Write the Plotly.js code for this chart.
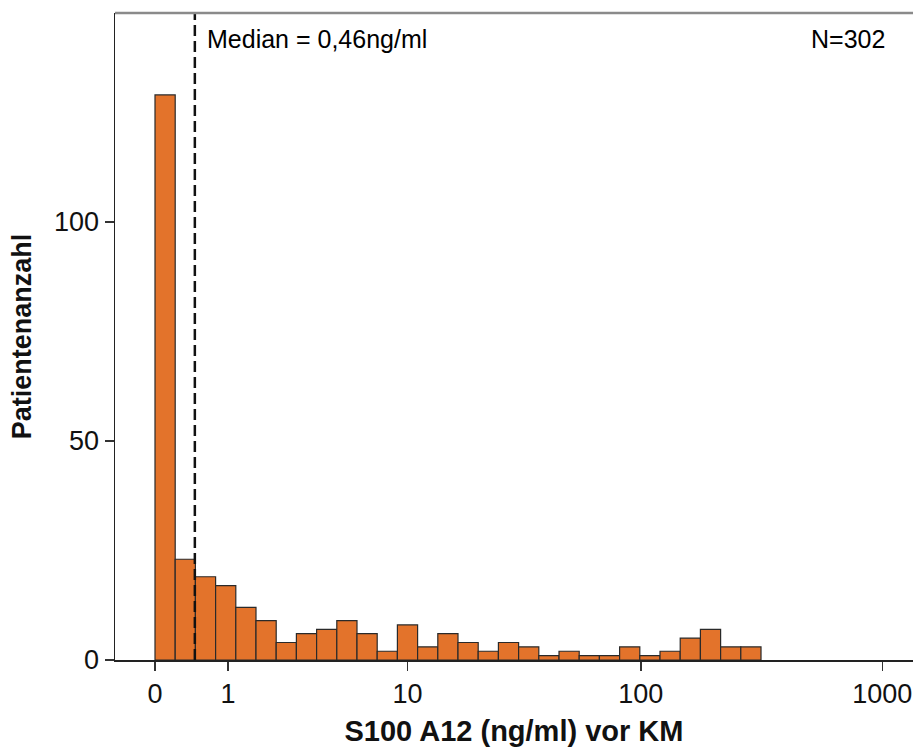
<!DOCTYPE html>
<html>
<head>
<meta charset="utf-8">
<script src="https://cdn.plot.ly/plotly-3.0.1.min.js"></script>
<style>html,body{margin:0;padding:0;background:#fff;}#chart{width:913px;height:747px;}</style>
</head>
<body>
<div id="chart"></div>
<script>
// Histogram counts per bin (bins equal-width on a log10(x+1) scale, 12 bins per decade)
const counts = [129, 23, 19, 17, 12, 9, 4, 6, 7, 9, 6, 2, 8, 3, 6, 4, 2, 4, 3, 1, 2, 1, 1, 3, 1, 2, 5, 7, 3, 3];
const binsPerDecade = 12;
const tickValuesRaw = [0, 1, 10, 100, 1000];
const tickLabels = ["0", "1", "10", "100", "1000"];
const medianValue = 0.46;
const medianText = "Median = 0,46ng/ml";
const nText = "N=302";
const xTitle = "S100 A12 (ng/ml) vor KM";
const yTitle = "Patientenanzahl";

const tf = v => Math.log10(v + 1);
const binW = 1 / binsPerDecade;
const xs = counts.map((_, i) => (i + 0.5) * binW);

const trace = {
  type: 'bar',
  x: xs,
  y: counts,
  width: binW,
  marker: { color: '#E3732B', line: { color: '#2a2a2a', width: 1.2 } },
  hoverinfo: 'x+y'
};

const font = "Liberation Sans, Arial, sans-serif";
const layout = {
  width: 913, height: 747,
  margin: { l: 115, r: 0, t: 13, b: 87 },
  paper_bgcolor: '#fff', plot_bgcolor: '#fff',
  showlegend: false,
  bargap: 0,
  xaxis: {
    range: [-0.165, 3.127],
    tickmode: 'array',
    tickvals: tickValuesRaw.map(tf),
    ticktext: tickLabels,
    ticks: 'outside', ticklen: 9, tickwidth: 1.5, tickcolor: '#333',
    showline: true, linecolor: '#222', linewidth: 1.5,
    showgrid: false, zeroline: false,
    tickfont: { family: font, size: 27, color: '#111' },
    title: { text: xTitle, font: { family: font, size: 29, color: '#111', weight: 'bold' }, standoff: 14 }
  },
  yaxis: {
    range: [0, 147.7],
    tickmode: 'array',
    tickvals: [0, 50, 100],
    ticks: 'outside', ticklen: 9, tickwidth: 1.5, tickcolor: '#333',
    showline: true, linecolor: '#222', linewidth: 1.5,
    showgrid: false, zeroline: false,
    tickfont: { family: font, size: 27, color: '#111' },
    title: { text: yTitle, font: { family: font, size: 27, color: '#111', weight: 'bold' }, standoff: 14 }
  },
  shapes: [
    { type: 'line', xref: 'x', yref: 'paper', x0: tf(medianValue), x1: tf(medianValue), y0: 0, y1: 1,
      line: { color: '#111', width: 2.5, dash: '11px,5px' } },
    { type: 'line', xref: 'paper', yref: 'paper', x0: 0, x1: 1, y0: 1, y1: 1,
      line: { color: '#8a8a8a', width: 2.5 } }
  ],
  annotations: [
    { xref: 'x', yref: 'paper', x: tf(medianValue), y: 0.985, xanchor: 'left', yanchor: 'top', xshift: 10,
      text: medianText, showarrow: false, font: { family: font, size: 25, color: '#000' } },
    { xref: 'paper', yref: 'paper', x: 0.968, y: 0.985, xanchor: 'right', yanchor: 'top',
      text: nText, showarrow: false, font: { family: font, size: 25, color: '#000' } }
  ]
};

Plotly.newPlot('chart', [trace], layout, { displayModeBar: false, staticPlot: true });
</script>
</body>
</html>
